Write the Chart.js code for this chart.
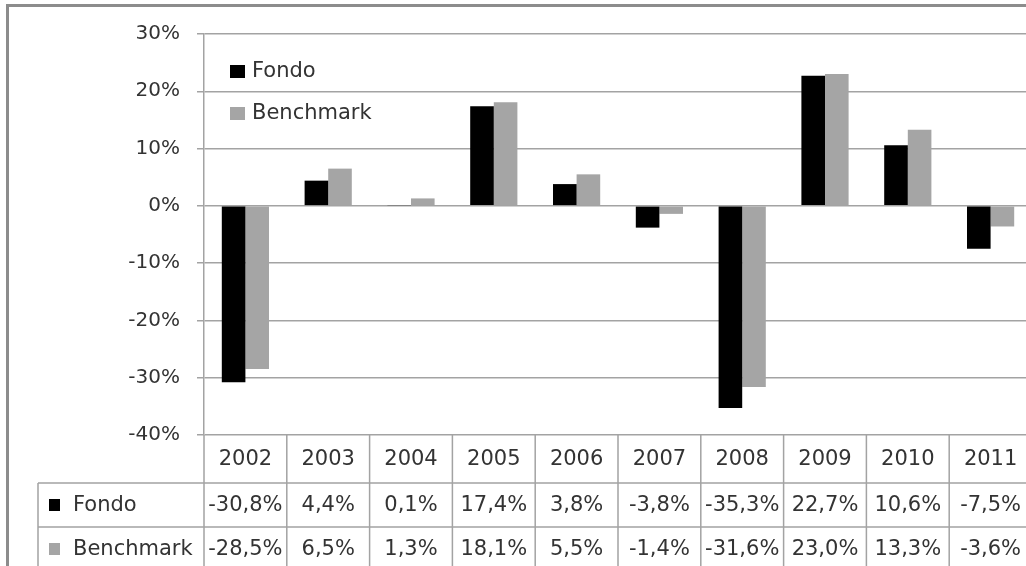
<!DOCTYPE html>
<html>
<head>
<meta charset="utf-8">
<script src="https://cdn.jsdelivr.net/npm/chart.js@4"></script>
<style>
  html, body { margin: 0; padding: 0; background: #fff; overflow: hidden; }
  #wrap { position: absolute; left: 0; top: 0; width: 1040px; height: 566px; }
  #frame { position: absolute; left: 6px; top: 4px; width: 1100px; height: 700px; border: 3px solid #8c8c8c; box-sizing: border-box; pointer-events: none; }
</style>
</head>
<body>
<div id="wrap"><canvas id="chart"></canvas></div>
<div id="frame"></div>
<script>
// data
const years = ['2002', '2003', '2004', '2005', '2006', '2007', '2008', '2009', '2010', '2011'];
const fondo = [-30.8, 4.4, 0.1, 17.4, 3.8, -3.8, -35.3, 22.7, 10.6, -7.5];
const benchmark = [-28.5, 6.5, 1.3, 18.1, 5.5, -1.4, -31.6, 23.0, 13.3, -3.6];
const seriesNames = ['Fondo', 'Benchmark'];
const yMin = -40, yMax = 30, yStep = 10;

const FONT = '"DejaVu Sans", sans-serif';
const TEXT = '#333333';
const LINE = '#a3a3a3';

const fmt = v => v.toFixed(1).replace('.', ',') + '%';

// legend drawn inside the plot area, top-left
const innerLegend = {
  id: 'innerLegend',
  afterDraw(chart) {
    const { ctx, chartArea } = chart;
    ctx.save();
    ctx.font = '21px ' + FONT;
    ctx.textBaseline = 'middle';
    chart.data.datasets.forEach((ds, i) => {
      const y = chartArea.top + 37 + i * 42;
      ctx.fillStyle = ds.backgroundColor;
      ctx.fillRect(chartArea.left + 26, y - 6, 15, 13);
      ctx.fillStyle = TEXT;
      ctx.fillText(ds.label, chartArea.left + 48, y + 1);
    });
    ctx.restore();
  }
};

// data table under the plot
const dataTable = {
  id: 'dataTable',
  afterDraw(chart) {
    const { ctx, chartArea: a, scales: { x } } = chart;
    const w = x.getPixelForValue(1) - x.getPixelForValue(0);
    const rowTops = [a.bottom, a.bottom + 48, a.bottom + 92, a.bottom + 136];
    const keyLeft = 38;
    ctx.save();
    ctx.strokeStyle = LINE;
    ctx.lineWidth = 1.5;
    ctx.beginPath();
    // horizontal rules
    for (let r = 1; r < rowTops.length; r++) {
      ctx.moveTo(keyLeft, rowTops[r]);
      ctx.lineTo(a.right, rowTops[r]);
    }
    // vertical rules
    for (let i = 0; i <= years.length; i++) {
      const px = x.getPixelForValue(i) - w / 2;
      ctx.moveTo(px, rowTops[0]);
      ctx.lineTo(px, rowTops[3]);
    }
    ctx.moveTo(keyLeft, rowTops[1]);
    ctx.lineTo(keyLeft, rowTops[3]);
    ctx.stroke();

    ctx.font = '21px ' + FONT;
    ctx.fillStyle = TEXT;
    ctx.textAlign = 'center';
    ctx.textBaseline = 'middle';
    years.forEach((yr, i) => {
      const cx = x.getPixelForValue(i);
      ctx.fillText(yr, cx, (rowTops[0] + rowTops[1]) / 2 + 1);
      chart.data.datasets.forEach((ds, d) => {
        ctx.fillText(fmt(ds.data[i]), cx, (rowTops[d + 1] + rowTops[d + 2]) / 2 + 1);
      });
    });
    ctx.textAlign = 'left';
    chart.data.datasets.forEach((ds, d) => {
      const cy = (rowTops[d + 1] + rowTops[d + 2]) / 2;
      ctx.fillStyle = ds.backgroundColor;
      ctx.fillRect(keyLeft + 11, cy - 6, 11, 12);
      ctx.fillStyle = TEXT;
      ctx.fillText(ds.label, keyLeft + 35, cy + 1);
    });
    ctx.restore();
  }
};

new Chart(document.getElementById('chart'), {
  type: 'bar',
  data: {
    labels: years,
    datasets: [
      { label: seriesNames[0], data: fondo, backgroundColor: '#000000' },
      { label: seriesNames[1], data: benchmark, backgroundColor: '#a5a5a5' }
    ]
  },
  options: {
    responsive: true,
    maintainAspectRatio: false,
    animation: false,
    layout: { padding: { top: 34, right: 8, bottom: 131, left: 0 } },
    datasets: { bar: { categoryPercentage: 0.57, barPercentage: 1.0 } },
    plugins: {
      legend: { display: false },
      tooltip: { enabled: false }
    },
    scales: {
      x: { display: false },
      y: {
        min: yMin,
        max: yMax,
        afterFit(scale) { scale.width = 204; },
        ticks: {
          stepSize: yStep,
          padding: 17,
          color: TEXT,
          font: { family: FONT, size: 20 },
          callback: v => v + '%'
        },
        grid: { color: LINE, lineWidth: 1.5, tickLength: 7 },
        border: { color: LINE, width: 1.5 }
      }
    }
  },
  plugins: [innerLegend, dataTable]
});
</script>
</body>
</html>
